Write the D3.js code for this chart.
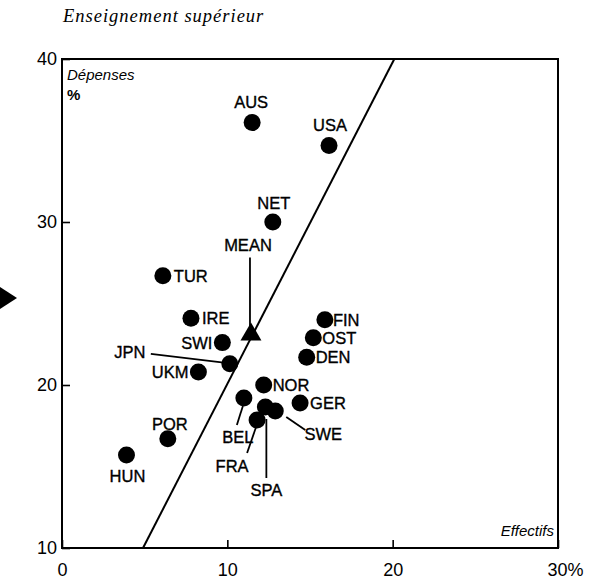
<!DOCTYPE html>
<html>
<head>
<meta charset="utf-8">
<script src="https://cdn.jsdelivr.net/npm/d3@7"></script>
<style>
  body { margin: 0; background: #fff; }
  svg { display: block; }
  text { font-family: "Liberation Sans", Arial, sans-serif; fill: #000; }
</style>
</head>
<body>
<svg id="chart" width="590" height="579"></svg>
<script>
// ---- data ----
const countries = ["AUS","USA","NET","TUR","IRE","SWI","JPN","UKM","FIN","OST","DEN","NOR","GER","BEL","SPA","SWE","FRA","POR","HUN"];
const effectifs = [11.5, 16.15, 12.75, 6.1, 7.8, 9.7, 10.15, 8.25, 15.9, 15.2, 14.8, 12.2, 14.4, 11.0, 12.3, 12.9, 11.8, 6.4, 3.9];
const depenses  = [36.1, 34.7, 30.0, 26.7, 24.1, 22.6, 21.3, 20.8, 24.0, 22.9, 21.7, 20.0, 18.9, 19.2, 18.65, 18.4, 17.85, 16.7, 15.7];
const meanPoint = {label: "MEAN", x: 11.43, y: 23.1};
const trendX = [4.9, 20.1];
const trendY = [10, 40];
const xTicks = [0, 10, 20, 30];
const xTickLabels = ["0", "10", "20", "30%"];
const yTicks = [10, 20, 30, 40];
const yTickLabels = ["10", "20", "30", "40"];

// ---- label placement (pixel offsets from the marker) ----
const labelPlace = {
  AUS: {dx: -1, dy: -21, anchor: "middle"},
  USA: {dx: 1, dy: -20, anchor: "middle"},
  NET: {dx: 1, dy: -19, anchor: "middle"},
  TUR: {dx: 11, dy: 0, anchor: "start"},
  IRE: {dx: 11, dy: 0, anchor: "start"},
  SWI: {dx: -10, dy: 0, anchor: "end"},
  JPN: {dx: -100, dy: -12, anchor: "middle", lead: [[-79, -10], [-4, -1]]},
  UKM: {dx: -10, dy: 0, anchor: "end"},
  FIN: {dx: 8, dy: 0, anchor: "start"},
  OST: {dx: 9, dy: 0, anchor: "start"},
  DEN: {dx: 9, dy: 0, anchor: "start"},
  NOR: {dx: 9, dy: 0, anchor: "start"},
  GER: {dx: 10, dy: 0, anchor: "start"},
  BEL: {dx: -6, dy: 39, anchor: "middle", lead: [[-1, 8], [-7, 27]]},
  SPA: {dx: 1, dy: 83, anchor: "middle", lead: [[1, 12], [1, 71]]},
  SWE: {dx: 48, dy: 23, anchor: "middle", lead: [[11, 6], [30, 19]]},
  FRA: {dx: -25, dy: 46, anchor: "middle", lead: [[0, 4], [-10, 33]]},
  POR: {dx: 2, dy: -15, anchor: "middle"},
  HUN: {dx: 1, dy: 21, anchor: "middle"}
};

const svg = d3.select("#chart");
const x = d3.scaleLinear().domain([0, 30]).range([62, 558]);
const y = d3.scaleLinear().domain([10, 40]).range([548, 59]);

// title
svg.append("text")
  .attr("x", 63).attr("y", 22)
  .style("font-family", "'Liberation Serif', 'Times New Roman', serif")
  .style("font-style", "italic")
  .style("font-size", "18.5px")
  .style("letter-spacing", "1px")
  .text("Enseignement supérieur");

// left page marker
svg.append("path")
  .attr("d", d3.line()([[0, 287], [17, 298], [0, 309]]) + "Z")
  .attr("fill", "#000");

// axes
const xAxis = d3.axisBottom(x).tickValues(xTicks).tickSize(-8).tickPadding(15)
  .tickFormat((d, i) => xTickLabels[i]);
const gx = svg.append("g").attr("transform", `translate(0,${y(10)})`).call(xAxis);
gx.select(".domain").remove();
gx.selectAll(".tick line").attr("stroke", "#000").attr("stroke-width", 1.6);
gx.selectAll(".tick text")
  .style("font-size", "18px").style("font-family", "'Liberation Sans', Arial, sans-serif")
  .attr("fill", "#000");
gx.selectAll(".tick").filter(d => d === 30).select("text")
  .attr("text-anchor", "start").attr("x", -11);

const yAxis = d3.axisLeft(y).tickValues(yTicks).tickSize(-8).tickPadding(5)
  .tickFormat((d, i) => yTickLabels[i]);
const gy = svg.append("g").attr("transform", `translate(${x(0)},0)`).call(yAxis);
gy.select(".domain").remove();
gy.selectAll(".tick line").attr("stroke", "#000").attr("stroke-width", 1.6);
gy.selectAll(".tick text")
  .style("font-size", "18px").style("font-family", "'Liberation Sans', Arial, sans-serif")
  .attr("fill", "#000");

// frame
svg.append("rect")
  .attr("x", x(0)).attr("y", y(40))
  .attr("width", x(30) - x(0)).attr("height", y(10) - y(40))
  .attr("fill", "none").attr("stroke", "#000").attr("stroke-width", 2);

// axis titles
svg.append("text").attr("x", x(0) + 5).attr("y", y(40) + 21)
  .style("font-style", "italic").style("font-size", "15px").text("Dépenses");
svg.append("text").attr("x", x(0) + 5).attr("y", y(40) + 41)
  .style("font-weight", "bold").style("font-size", "15px").text("%");
svg.append("text").attr("x", x(30) - 4).attr("y", y(10) - 12)
  .attr("text-anchor", "end")
  .style("font-style", "italic").style("font-size", "15px").text("Effectifs");

// trend line
svg.append("line")
  .attr("x1", x(trendX[0])).attr("y1", y(trendY[0]))
  .attr("x2", x(trendX[1])).attr("y2", y(trendY[1]))
  .attr("stroke", "#000").attr("stroke-width", 2);

// points
const pts = countries.map((c, i) => ({c, px: x(effectifs[i]), py: y(depenses[i]), p: labelPlace[c]}));

// leader lines
svg.append("g").selectAll("line").data(pts.filter(d => d.p.lead)).join("line")
  .attr("x1", d => d.px + d.p.lead[0][0]).attr("y1", d => d.py + d.p.lead[0][1])
  .attr("x2", d => d.px + d.p.lead[1][0]).attr("y2", d => d.py + d.p.lead[1][1])
  .attr("stroke", "#000").attr("stroke-width", 1.8);

svg.append("g").selectAll("circle").data(pts).join("circle")
  .attr("cx", d => d.px).attr("cy", d => d.py).attr("r", 8.5).attr("fill", "#000");

svg.append("g").selectAll("text").data(pts).join("text")
  .attr("x", d => d.px + d.p.dx).attr("y", d => d.py + d.p.dy)
  .attr("text-anchor", d => d.p.anchor)
  .attr("dominant-baseline", "central")
  .style("font-size", "16.5px")
  .style("stroke", "#000").style("stroke-width", "0.35px")
  .text(d => d.c);

// mean marker
const mx = x(meanPoint.x), my = y(meanPoint.y);
svg.append("path")
  .attr("d", d3.symbol(d3.symbolTriangle, 190)())
  .attr("transform", `translate(${mx},${my})`)
  .attr("fill", "#000");
svg.append("line")
  .attr("x1", mx - 1).attr("y1", my - 77).attr("x2", mx - 1).attr("y2", my - 6)
  .attr("stroke", "#000").attr("stroke-width", 1.8);
svg.append("text")
  .attr("x", mx - 3).attr("y", my - 89)
  .attr("text-anchor", "middle").attr("dominant-baseline", "central")
  .style("font-size", "16.5px")
  .style("stroke", "#000").style("stroke-width", "0.35px")
  .text(meanPoint.label);
</script>
</body>
</html>
